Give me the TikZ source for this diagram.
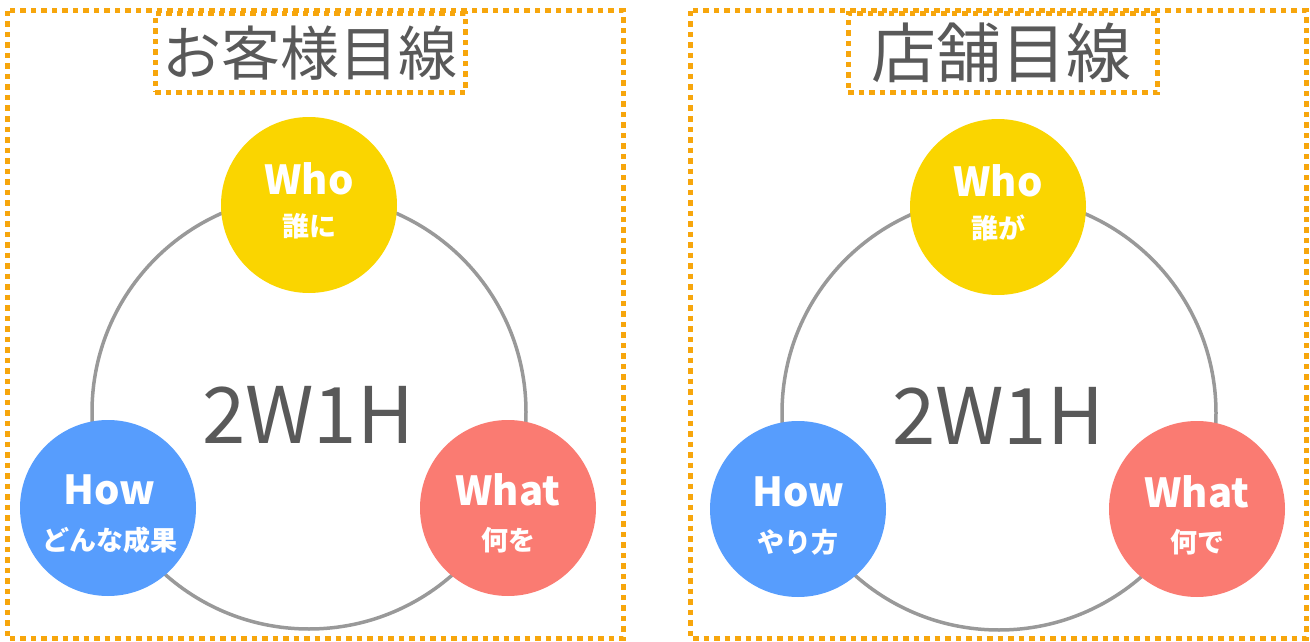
\documentclass[tikz,border=0pt]{standalone}
\usepackage{fontspec}
\setmainfont{Noto Sans CJK JP}
\definecolor{dashorange}{HTML}{F7A60C}
\definecolor{ringgray}{HTML}{999999}
\definecolor{txtgray}{HTML}{595959}
\definecolor{cyellow}{HTML}{FAD500}
\definecolor{cblue}{HTML}{579DFD}
\definecolor{cred}{HTML}{FA7B72}
\tikzset{
  dotbox/.style={draw=dashorange, line width=5pt, dash pattern=on 5.5pt off 5pt},
  ringline/.style={draw=ringgray, line width=3.5pt},
  bubble/.style={circle, minimum size=176pt, inner sep=0pt},
  entxt/.style={text=white, font=\fontsize{40}{44}\selectfont\bfseries},
  jptxt/.style={text=white, font=\fontsize{27}{30}\selectfont\bfseries},
  bigtxt/.style={text=txtgray, font=\fontsize{78}{84}\selectfont},
}
\begin{document}
\begin{tikzpicture}[x=1pt,y=-1pt]
\useasboundingbox (0,0) rectangle (1310,642);
% ---------- left panel ----------
\draw[dotbox] (7,11) rectangle (623,638);
\node[dotbox, rectangle, minimum width=310pt, minimum height=79pt, anchor=north] (ltitlebox) at (310,11) {};
\node[text=txtgray, font=\fontsize{59}{64}\selectfont] (ltitle) at (310,53) {お客様目線};
\node[ringline, circle, minimum size=434pt, inner sep=0pt] (lring) at (309,412) {};
\node[bigtxt] (lcore) at (308,415) {2W1H};
\node[bubble, fill=cyellow] (lwho) at (309,205) {};
\node[entxt] (lwhoen) at (309,179) {Who};
\node[jptxt] (lwhojp) at (309,226) {誰に};
\node[bubble, fill=cblue] (lhow) at (108,508) {};
\node[entxt] (lhowen) at (109,490) {How};
\node[jptxt] (lhowjp) at (110,540) {どんな成果};
\node[bubble, fill=cred] (lwhat) at (508,508) {};
\node[entxt] (lwhaten) at (508,490) {What};
\node[jptxt] (lwhatjp) at (508,540) {何を};
% ---------- right panel ----------
\draw[dotbox] (690,11) rectangle (1306,638);
\node[dotbox, rectangle, minimum width=309pt, minimum height=79pt, anchor=north] (rtitlebox) at (1002.5,11) {};
\node[text=txtgray, font=\fontsize{65}{70}\selectfont] (rtitle) at (1001,53) {店舗目線};
\node[ringline, circle, minimum size=434pt, inner sep=0pt] (rring) at (999,413) {};
\node[bigtxt] (rcore) at (998,416) {2W1H};
\node[bubble, fill=cyellow] (rwho) at (998,207) {};
\node[entxt] (rwhoen) at (998,181) {Who};
\node[jptxt] (rwhojp) at (998,228) {誰が};
\node[bubble, fill=cblue] (rhow) at (798,509) {};
\node[entxt] (rhowen) at (798,492) {How};
\node[jptxt] (rhowjp) at (798,542) {やり方};
\node[bubble, fill=cred] (rwhat) at (1197,509) {};
\node[entxt] (rwhaten) at (1197,492) {What};
\node[jptxt] (rwhatjp) at (1197,542) {何で};
\end{tikzpicture}
\end{document}
